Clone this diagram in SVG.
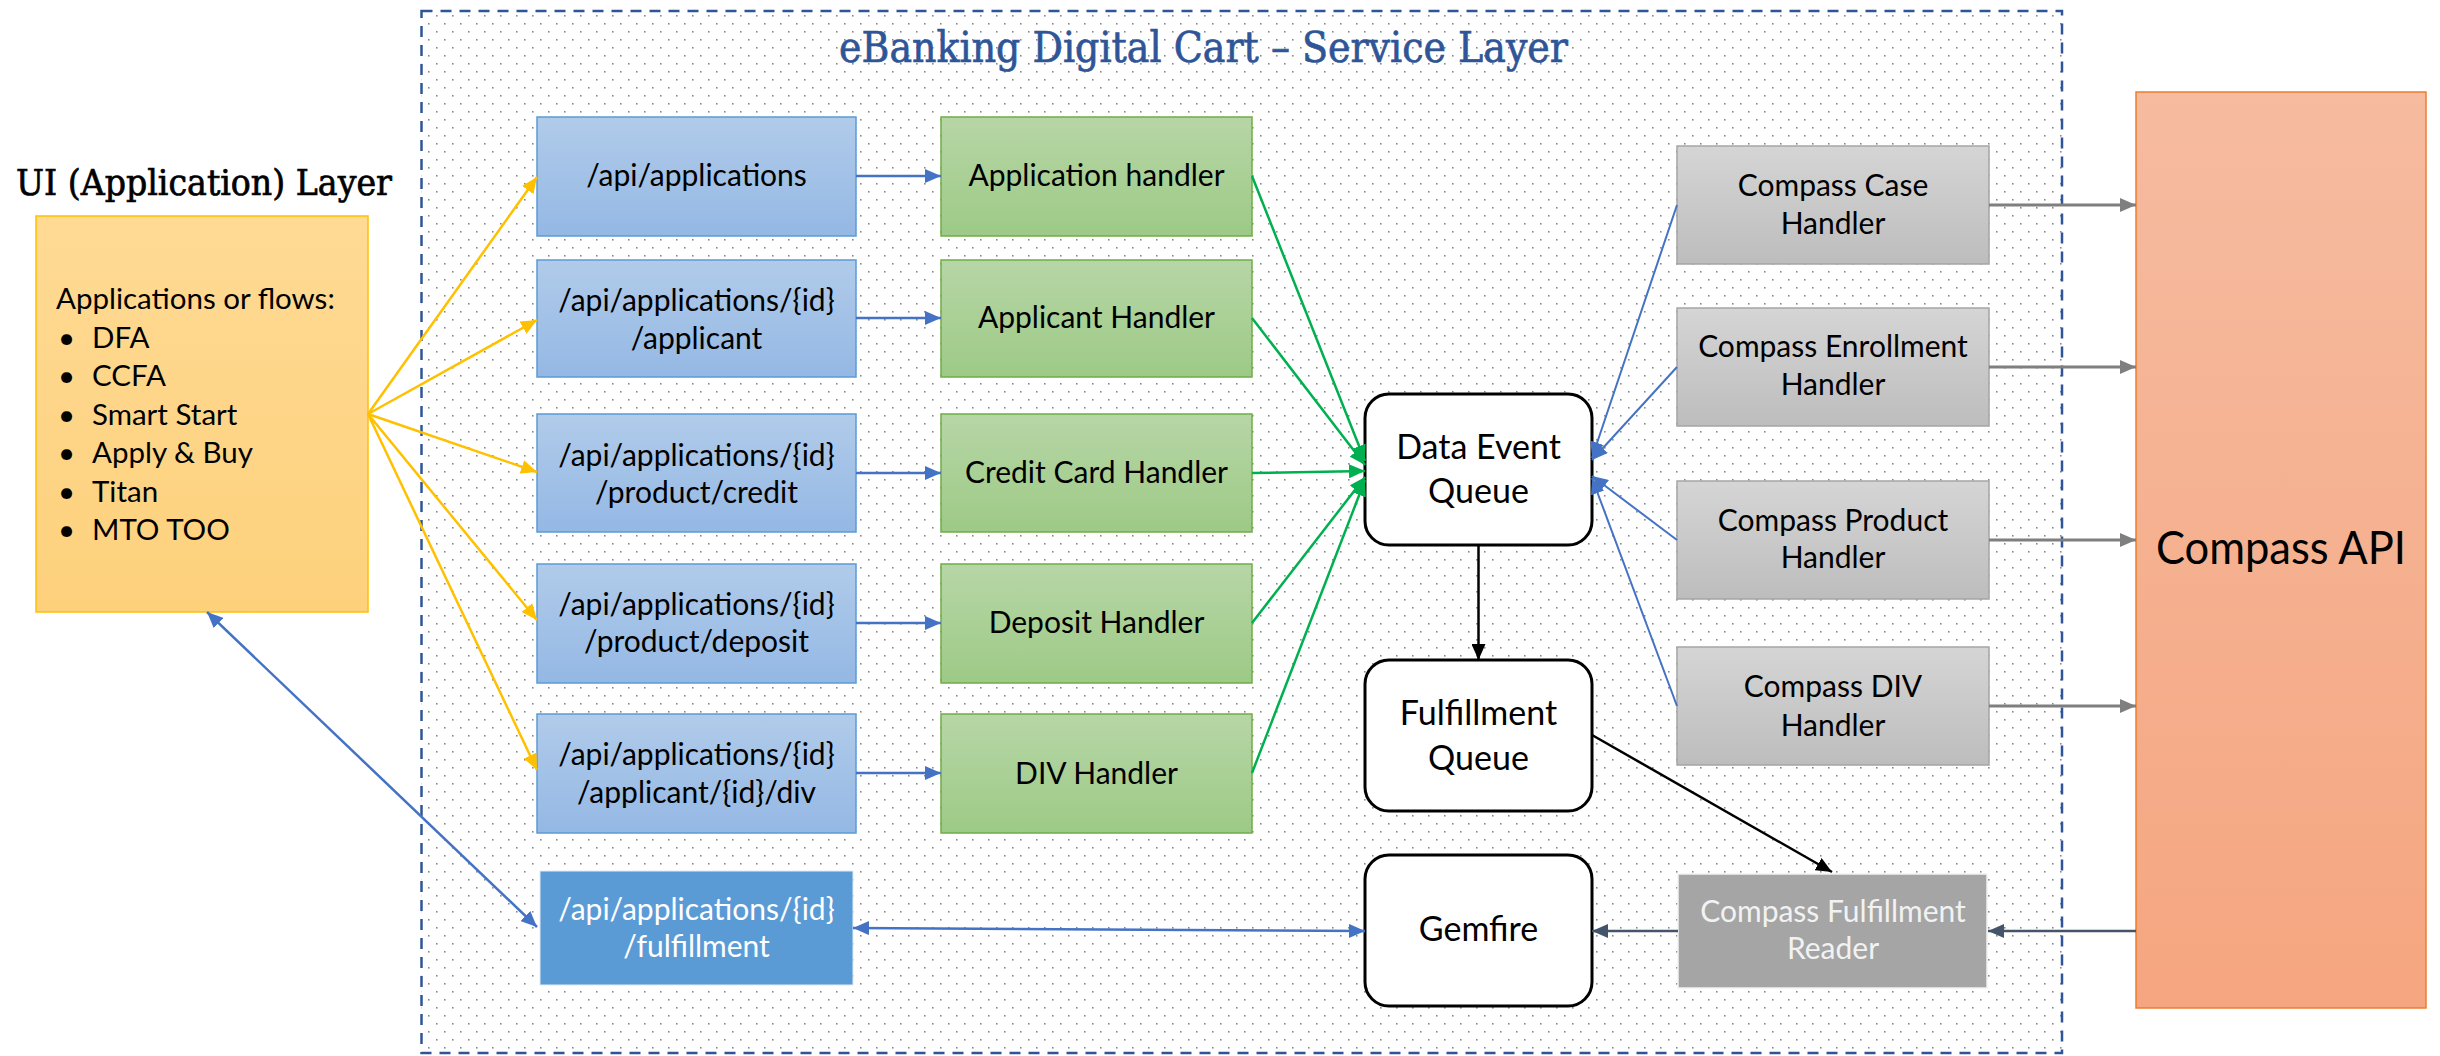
<svg xmlns="http://www.w3.org/2000/svg" width="2440" height="1056" viewBox="0 0 2440 1056">
<defs>
  <pattern id="dots" x="428" y="7" width="16" height="16" patternUnits="userSpaceOnUse">
    <rect x="0" y="0" width="1.6" height="1.6" fill="#8a8a8a"/>
    <rect x="8" y="8" width="1.6" height="1.6" fill="#8a8a8a"/>
  </pattern>
  <linearGradient id="gYellow" x1="0" y1="0" x2="0" y2="1"><stop offset="0" stop-color="#FFDA94"/><stop offset="1" stop-color="#FDD17C"/></linearGradient>
  <linearGradient id="gBlue" x1="0" y1="0" x2="0" y2="1"><stop offset="0" stop-color="#B1CBEA"/><stop offset="1" stop-color="#94B8E4"/></linearGradient>
  <linearGradient id="gGreen" x1="0" y1="0" x2="0" y2="1"><stop offset="0" stop-color="#B7D6A6"/><stop offset="1" stop-color="#9DCA86"/></linearGradient>
  <linearGradient id="gGrey" x1="0" y1="0" x2="0" y2="1"><stop offset="0" stop-color="#D5D5D5"/><stop offset="1" stop-color="#BDBDBD"/></linearGradient>
  <linearGradient id="gOrange" x1="0" y1="0" x2="0" y2="1"><stop offset="0" stop-color="#F6BBA0"/><stop offset="1" stop-color="#F5A680"/></linearGradient>
  <marker id="aYellow" viewBox="0 0 16 14" refX="16" refY="7" markerWidth="16" markerHeight="14" markerUnits="userSpaceOnUse" orient="auto-start-reverse"><path d="M0,0 L16,7 L0,14 z" fill="#FFC000"/></marker>
  <marker id="aBlue" viewBox="0 0 16 14" refX="16" refY="7" markerWidth="16" markerHeight="14" markerUnits="userSpaceOnUse" orient="auto-start-reverse"><path d="M0,0 L16,7 L0,14 z" fill="#4472C4"/></marker>
  <marker id="aGreen" viewBox="0 0 16 14" refX="16" refY="7" markerWidth="16" markerHeight="14" markerUnits="userSpaceOnUse" orient="auto-start-reverse"><path d="M0,0 L16,7 L0,14 z" fill="#00B050"/></marker>
  <marker id="aGrey" viewBox="0 0 16 14" refX="16" refY="7" markerWidth="16" markerHeight="14" markerUnits="userSpaceOnUse" orient="auto-start-reverse"><path d="M0,0 L16,7 L0,14 z" fill="#7F7F7F"/></marker>
  <marker id="aDark" viewBox="0 0 16 14" refX="16" refY="7" markerWidth="16" markerHeight="14" markerUnits="userSpaceOnUse" orient="auto-start-reverse"><path d="M0,0 L16,7 L0,14 z" fill="#44546A"/></marker>
  <marker id="aBlack" viewBox="0 0 16 14" refX="16" refY="7" markerWidth="16" markerHeight="14" markerUnits="userSpaceOnUse" orient="auto-start-reverse"><path d="M0,0 L16,7 L0,14 z" fill="#000000"/></marker>
</defs>
<style>
  .t { font-family: Lato, "Liberation Sans", sans-serif; font-size: 30px; fill: #000; text-anchor: middle; }
  .tl { font-family: Lato, "Liberation Sans", sans-serif; font-size: 29.5px; fill: #000; }
  .q { font-family: Lato, "Liberation Sans", sans-serif; font-size: 34px; fill: #000; text-anchor: middle; }
  .slab { font-family: "DejaVu Serif", "Liberation Serif", serif; stroke-width: 0.7; }
  .blue { fill: url(#gBlue); stroke: #5B9BD5; stroke-width: 1.5; }
  .green { fill: url(#gGreen); stroke: #70AD47; stroke-width: 1.5; }
  .grey { fill: url(#gGrey); stroke: #A5A5A5; stroke-width: 1.5; }
  .queue { fill: #FFFFFF; stroke: #000; stroke-width: 3; }
  .c { fill: none; stroke-width: 2.5; }
</style>
<rect width="2440" height="1056" fill="#FFFFFF"/>

<g id="service-layer">
  <rect x="421.5" y="11" width="1640.5" height="1042" fill="url(#dots)" stroke="#2F5597" stroke-width="2.5" stroke-dasharray="11 8"/>
  <text class="slab" x="839" y="62" font-size="42" fill="#2F5597" stroke="#2F5597" textLength="729" lengthAdjust="spacingAndGlyphs">eBanking Digital Cart – Service Layer</text>
</g>

<g id="ui-layer">
  <text class="slab" x="16" y="195" font-size="35" fill="#000" stroke="#000" textLength="376" lengthAdjust="spacingAndGlyphs">UI (Application) Layer</text>
  <rect x="36" y="216" width="332" height="396" fill="url(#gYellow)" stroke="#FFC000" stroke-width="1.5"/>
  <text class="tl" x="56" y="309">Applications or flows:</text>
  <text class="tl" x="58" y="348">•</text><text class="tl" x="92" y="348">DFA</text>
  <text class="tl" x="58" y="386">•</text><text class="tl" x="92" y="386">CCFA</text>
  <text class="tl" x="58" y="425">•</text><text class="tl" x="92" y="425">Smart Start</text>
  <text class="tl" x="58" y="463">•</text><text class="tl" x="92" y="463">Apply &amp; Buy</text>
  <text class="tl" x="58" y="502">•</text><text class="tl" x="92" y="502">Titan</text>
  <text class="tl" x="58" y="540">•</text><text class="tl" x="92" y="540">MTO TOO</text>
</g>

<g id="api-applications"><rect class="blue" x="537" y="117" width="319" height="119"/><text class="t" x="696.5" y="186">/api/applications</text></g>
<g id="api-applicant"><rect class="blue" x="537" y="260" width="319" height="117"/><text class="t" x="696.5" y="311">/api/applications/{id}</text><text class="t" x="696.5" y="349">/applicant</text></g>
<g id="api-credit"><rect class="blue" x="537" y="414" width="319" height="118"/><text class="t" x="696.5" y="466">/api/applications/{id}</text><text class="t" x="696.5" y="503">/product/credit</text></g>
<g id="api-deposit"><rect class="blue" x="537" y="564" width="319" height="119"/><text class="t" x="696.5" y="615">/api/applications/{id}</text><text class="t" x="696.5" y="652">/product/deposit</text></g>
<g id="api-div"><rect class="blue" x="537" y="714" width="319" height="119"/><text class="t" x="696.5" y="765">/api/applications/{id}</text><text class="t" x="696.5" y="803">/applicant/{id}/div</text></g>
<g id="api-fulfillment"><rect x="540" y="871" width="313" height="114" fill="#5B9BD5" stroke="#DDEBF7" stroke-width="1"/><text class="t" x="696.5" y="920" style="fill:#FFFFFF">/api/applications/{id}</text><text class="t" x="696.5" y="957" style="fill:#FFFFFF">/fulfillment</text></g>

<g id="application-handler"><rect class="green" x="941" y="117" width="311" height="119"/><text class="t" x="1096.5" y="186">Application handler</text></g>
<g id="applicant-handler"><rect class="green" x="941" y="260" width="311" height="117"/><text class="t" x="1096.5" y="328">Applicant Handler</text></g>
<g id="credit-card-handler"><rect class="green" x="941" y="414" width="311" height="118"/><text class="t" x="1096.5" y="483">Credit Card Handler</text></g>
<g id="deposit-handler"><rect class="green" x="941" y="564" width="311" height="119"/><text class="t" x="1096.5" y="633">Deposit Handler</text></g>
<g id="div-handler"><rect class="green" x="941" y="714" width="311" height="119"/><text class="t" x="1096.5" y="784">DIV Handler</text></g>

<g id="data-event-queue"><rect class="queue" x="1365" y="394" width="227" height="151" rx="24"/><text class="q" x="1478.5" y="459">Data Event</text><text class="q" x="1478.5" y="503">Queue</text></g>
<g id="fulfillment-queue"><rect class="queue" x="1365" y="660" width="227" height="151" rx="24"/><text class="q" x="1478.5" y="725">Fulfillment</text><text class="q" x="1478.5" y="770">Queue</text></g>
<g id="gemfire"><rect class="queue" x="1365" y="855" width="227" height="151" rx="24"/><text class="q" x="1478.5" y="941">Gemfire</text></g>

<g id="compass-case-handler"><rect class="grey" x="1677" y="146" width="312" height="118"/><text class="t" x="1833" y="196">Compass Case</text><text class="t" x="1833" y="234">Handler</text></g>
<g id="compass-enrollment-handler"><rect class="grey" x="1677" y="308" width="312" height="118"/><text class="t" x="1833" y="357">Compass Enrollment</text><text class="t" x="1833" y="395">Handler</text></g>
<g id="compass-product-handler"><rect class="grey" x="1677" y="481" width="312" height="118"/><text class="t" x="1833" y="531">Compass Product</text><text class="t" x="1833" y="568">Handler</text></g>
<g id="compass-div-handler"><rect class="grey" x="1677" y="647" width="312" height="118"/><text class="t" x="1833" y="697">Compass DIV</text><text class="t" x="1833" y="736">Handler</text></g>
<g id="compass-fulfillment-reader"><rect x="1678" y="874" width="309" height="114" fill="#A5A5A5" stroke="#F2F2F2" stroke-width="1.5"/><text class="t" x="1833" y="922" style="fill:#F2F2F2">Compass Fulfillment</text><text class="t" x="1833" y="959" style="fill:#F2F2F2">Reader</text></g>

<g id="compass-api"><rect x="2136" y="92" width="290" height="916" fill="url(#gOrange)" stroke="#ED7D31" stroke-width="1.5"/><text x="2281" y="564" font-family="Lato, 'Liberation Sans', sans-serif" font-size="46" text-anchor="middle" fill="#000" textLength="250" lengthAdjust="spacingAndGlyphs">Compass API</text></g>

<g id="connectors">
  <g stroke="#FFC000" class="c" marker-end="url(#aYellow)">
    <line x1="368" y1="414" x2="537" y2="177"/>
    <line x1="368" y1="414" x2="537" y2="320"/>
    <line x1="368" y1="414" x2="537" y2="472"/>
    <line x1="368" y1="414" x2="537" y2="620"/>
    <line x1="368" y1="414" x2="537" y2="770"/>
  </g>
  <g stroke="#4472C4" class="c" marker-end="url(#aBlue)">
    <line x1="856" y1="176" x2="941" y2="176"/>
    <line x1="856" y1="318" x2="941" y2="318"/>
    <line x1="856" y1="473" x2="941" y2="473"/>
    <line x1="856" y1="623" x2="941" y2="623"/>
    <line x1="856" y1="773" x2="941" y2="773"/>
  </g>
  <g stroke="#00B050" class="c" marker-end="url(#aGreen)">
    <line x1="1252" y1="176" x2="1365" y2="461"/>
    <line x1="1252" y1="318" x2="1365" y2="465"/>
    <line x1="1252" y1="473" x2="1365" y2="471"/>
    <line x1="1252" y1="623" x2="1365" y2="477"/>
    <line x1="1252" y1="773" x2="1365" y2="480"/>
  </g>
  <g stroke="#4472C4" fill="none" stroke-width="2" marker-end="url(#aBlue)">
    <line x1="1677" y1="205" x2="1592" y2="458"/>
    <line x1="1677" y1="367" x2="1592" y2="460"/>
    <line x1="1677" y1="540" x2="1592" y2="476"/>
    <line x1="1677" y1="706" x2="1592" y2="478"/>
  </g>
  <g stroke="#7F7F7F" fill="none" stroke-width="3" marker-end="url(#aGrey)">
    <line x1="1989" y1="205" x2="2136" y2="205"/>
    <line x1="1989" y1="367" x2="2136" y2="367"/>
    <line x1="1989" y1="540" x2="2136" y2="540"/>
    <line x1="1989" y1="706" x2="2136" y2="706"/>
  </g>
  <g stroke="#44546A" class="c" marker-end="url(#aDark)">
    <line x1="2136" y1="931" x2="1988" y2="931"/>
    <line x1="1678" y1="931" x2="1592" y2="931"/>
  </g>
  <g stroke="#000000" class="c" marker-end="url(#aBlack)">
    <line x1="1478.5" y1="545" x2="1478.5" y2="660"/>
    <line x1="1592" y1="735" x2="1832" y2="872"/>
  </g>
  <g stroke="#4472C4" class="c" marker-start="url(#aBlue)" marker-end="url(#aBlue)">
    <line x1="853" y1="928" x2="1365" y2="931"/>
    <line x1="207" y1="612" x2="537" y2="927"/>
  </g>
</g>
</svg>
